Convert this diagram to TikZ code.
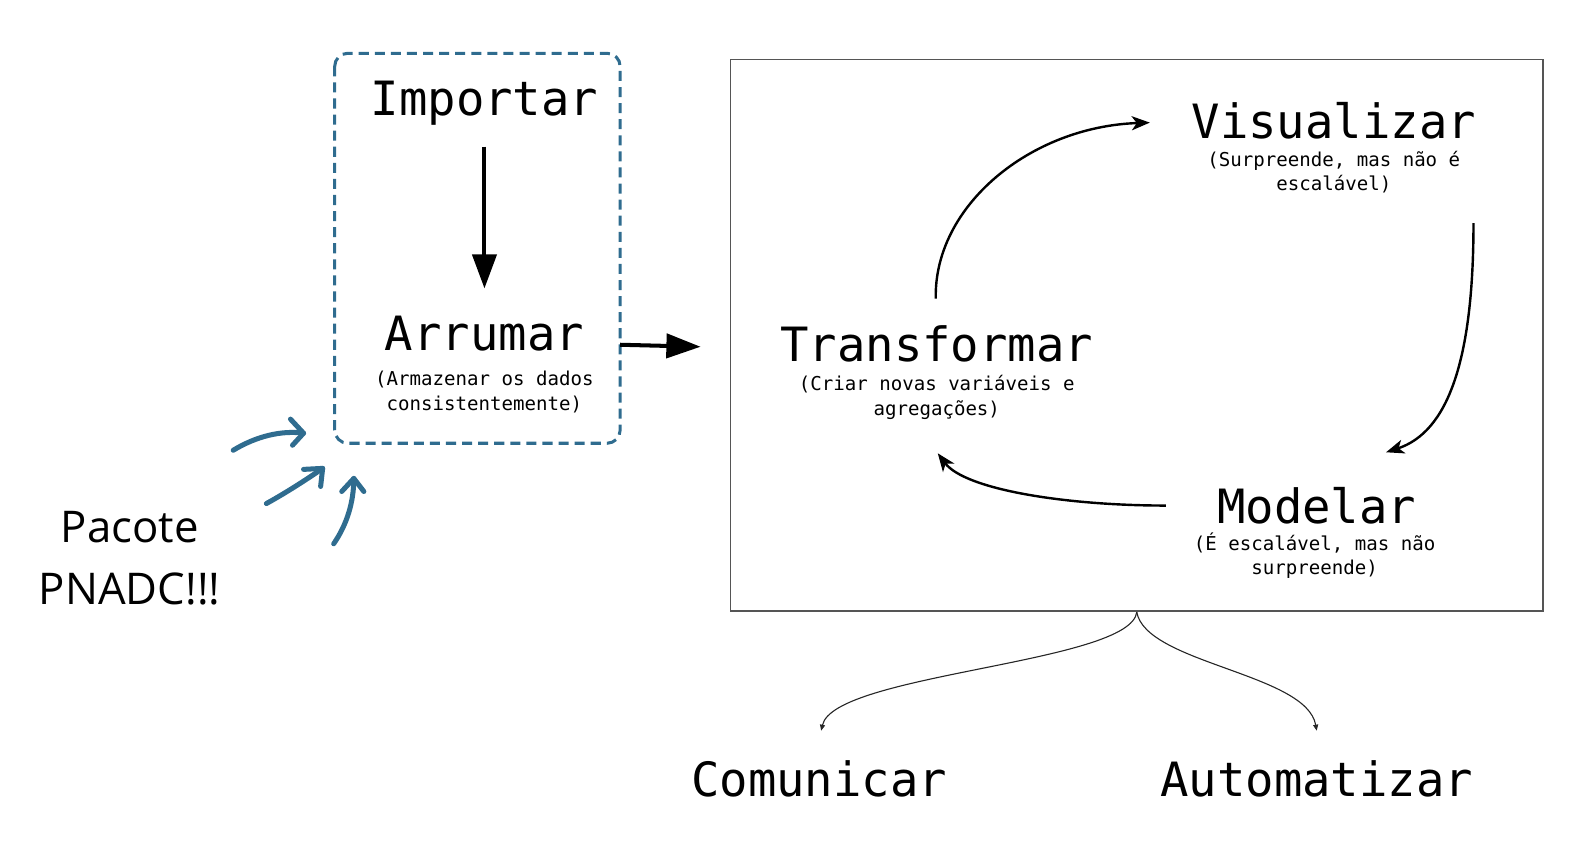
\documentclass[tikz,border=0pt]{standalone}
\usepackage{fontspec}
\setmainfont{DejaVu Sans Mono}
\newfontfamily\opensans{Open Sans}
\usetikzlibrary{arrows.meta}
\definecolor{bluec}{HTML}{2F6C8F}
\definecolor{boxgray}{HTML}{555555}
\begin{document}
\begin{tikzpicture}[x=1pt,y=-1pt,
  big/.style={font=\fontsize{47}{50}\selectfont, inner sep=0pt, anchor=base},
  sub/.style={font=\fontsize{19}{25}\selectfont, inner sep=0pt, anchor=base},
  pac/.style={font=\opensans\fontsize{43.5}{50}\selectfont, inner sep=0pt, anchor=base},
  bigarrow/.style={line width=4pt, -{Triangle[length=34pt,width=24pt]}},
  cyclearrow/.style={line width=2.4pt, -{Stealth[length=18pt,width=14pt,inset=5pt]}},
  brancharrow/.style={line width=1.1pt, draw=black!85, -{Triangle[length=6pt,width=5pt]}},
  bluearrow/.style={line width=5pt, draw=bluec, line cap=round, line join=round},
  dashbox/.style={draw=bluec, line width=3pt, dash pattern=on 10pt off 6pt, rounded corners=13pt},
  graybox/.style={draw=boxgray, line width=1.5pt}
]
\useasboundingbox (0,0) rectangle (1568,858);

% left dashed box
\draw[dashbox] (333,53) rectangle (617,441);
\node[big] (imp) at (482,115) {Importar};
\node[big] (arr) at (482,349) {Arrumar};
\node[sub] (arrs1) at (482,384) {(Armazenar os dados};
\node[sub] (arrs2) at (482,408) {consistentemente)};
\coordinate (impB) at (482,146);
\coordinate (arrT) at (482,287);
\draw[bigarrow] (impB) -- (arrT);

% right box
\draw[graybox] (727,59) rectangle (1535,608);
\coordinate (boxL) at (617,343);
\coordinate (boxR) at (697,345);
\draw[bigarrow] (boxL) -- (boxR);

\node[big] (vis) at (1327,138) {Visualizar};
\node[sub] (viss1) at (1327,166) {(Surpreende, mas não é};
\node[sub] (viss2) at (1327,190) {escalável)};

\node[big] (tra) at (932,360) {Transformar};
\node[sub] (tras1) at (932,389) {(Criar novas variáveis e};
\node[sub] (tras2) at (932,413) {agregações)};

\node[big] (mod) at (1310,521) {Modelar};
\node[sub] (mods1) at (1308,548) {(É escalável, mas não};
\node[sub] (mods2) at (1308,572) {surpreende)};

\coordinate (traT) at (931,297);
\coordinate (visL) at (1144,122);
\coordinate (visB) at (1466,222);
\coordinate (modT) at (1379,450);
\coordinate (modL) at (1160,503);
\coordinate (traB) at (933,451);
\draw[cyclearrow] (traT) .. controls (929,205) and (1025,126) .. (visL);
\draw[cyclearrow] (visB) .. controls (1466,360) and (1440,430) .. (modT);
\draw[cyclearrow] (modL) .. controls (1060,503) and (960,487) .. (traB);

% branches
\coordinate (fork) at (1131,609);
\coordinate (comT) at (817,727);
\coordinate (autT) at (1310,727);
\draw[brancharrow] (fork) .. controls (1125,660) and (830,670) .. (comT);
\draw[brancharrow] (fork) .. controls (1140,660) and (1300,670) .. (autT);
\node[big] (com) at (815,792) {Comunicar};
\node[big] (aut) at (1310,792) {Automatizar};

% Pacote PNADC
\node[pac] (pac1) at (129,540) {Pacote};
\node[pac] (pac2) at (129,601) {PNADC!!!};

% blue hand-drawn arrows
\coordinate (b1s) at (232,448);
\coordinate (b1t) at (302,431);
\draw[bluearrow] (b1s) .. controls (255,434) and (280,428) .. (b1t);
\draw[bluearrow] (289,417) -- (b1t) -- (291,443);
\coordinate (b2s) at (265,501);
\coordinate (b2t) at (321,466);
\draw[bluearrow] (b2s) .. controls (285,490) and (305,477) .. (b2t);
\draw[bluearrow] (302,467) -- (b2t) -- (319,484);
\coordinate (b3s) at (332,541);
\coordinate (b3t) at (352,476);
\draw[bluearrow] (b3s) .. controls (345,522) and (352,500) .. (b3t);
\draw[bluearrow] (340,489) -- (b3t) -- (362,489);
\end{tikzpicture}
\end{document}
